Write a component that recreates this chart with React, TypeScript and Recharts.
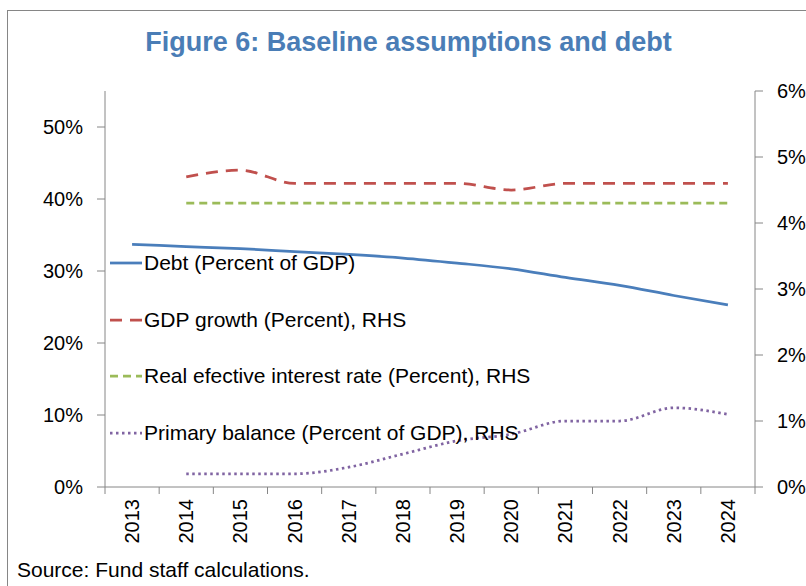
import { LineChart, Line, XAxis, YAxis, Legend } from "recharts";

const YEARS = [2013, 2014, 2015, 2016, 2017, 2018, 2019, 2020, 2021, 2022, 2023, 2024];
const DEBT = [33.7, 33.4, 33.1, 32.7, 32.3, 31.8, 31.1, 30.3, 29.1, 28.0, 26.6, 25.3];
const GDP_GROWTH = [null, 4.7, 4.8, 4.6, 4.6, 4.6, 4.6, 4.5, 4.6, 4.6, 4.6, 4.6];
const INTEREST_RATE = [null, 4.3, 4.3, 4.3, 4.3, 4.3, 4.3, 4.3, 4.3, 4.3, 4.3, 4.3];
const PRIMARY_BALANCE = [null, 0.2, 0.2, 0.2, 0.3, 0.5, 0.7, 0.8, 1.0, 1.0, 1.2, 1.1];

const LEFT_TICKS = [0, 10, 20, 30, 40, 50];
const RIGHT_TICKS = [0, 1, 2, 3, 4, 5, 6];

const SERIES = [
  { key: "debt", name: "Debt (Percent of GDP)", color: "#4a7ebb", dash: undefined, axis: "left" },
  { key: "gdp", name: "GDP growth (Percent), RHS", color: "#c0504d", dash: "12 8", axis: "right" },
  { key: "rate", name: "Real efective interest rate (Percent), RHS", color: "#9bbb59", dash: "8 5", axis: "right" },
  { key: "primary", name: "Primary balance (Percent of GDP), RHS", color: "#8064a2", dash: "2.5 3.5", axis: "right" },
];

const data = YEARS.map((year, i) => ({
  year,
  debt: DEBT[i],
  gdp: GDP_GROWTH[i],
  rate: INTEREST_RATE[i],
  primary: PRIMARY_BALANCE[i],
}));

// tick marks sit on the category boundaries, labels in between
const boundaries = [...YEARS.map((y) => y - 0.5), YEARS[YEARS.length - 1] + 0.5];

const FONT = "'Liberation Sans', Arial, sans-serif";
const AXIS_GREY = "#868686";
const PLOT_WIDTH = 650;
const HALF_BAND = PLOT_WIDTH / YEARS.length / 2;

function YearTick({ x, y, payload }: any) {
  if (payload.value > YEARS[YEARS.length - 1]) return null;
  const cx = x + HALF_BAND;
  const ty = y + 3;
  return (
    <text
      x={cx}
      y={ty}
      transform={`rotate(-90, ${cx}, ${ty})`}
      textAnchor="end"
      dominantBaseline="central"
      fontSize={20}
      fontFamily={FONT}
      fill="#000"
    >
      {payload.value + 0.5}
    </text>
  );
}

function LegendBox() {
  return (
    <div style={{ fontFamily: FONT, fontSize: 21, color: "#000" }}>
      {SERIES.map((s) => (
        <div key={s.key} style={{ height: 56.5, display: "flex", alignItems: "center" }}>
          <svg width={34} height={10} style={{ display: "block" }}>
            <line x1={0} y1={5} x2={32} y2={5} stroke={s.color} strokeWidth={2.75} strokeDasharray={s.dash} />
          </svg>
          <span style={{ whiteSpace: "nowrap" }}>{s.name}</span>
        </div>
      ))}
    </div>
  );
}

export default function App() {
  return (
    <div style={{ position: "fixed", left: 0, top: 0, width: 806, height: 586, background: "#fff", overflow: "hidden" }}>
      <div
        style={{
          position: "absolute",
          left: 7,
          top: 10,
          width: 799,
          height: 576,
          borderLeft: `1px solid ${AXIS_GREY}`,
          borderTop: `1px solid ${AXIS_GREY}`,
          boxSizing: "border-box",
        }}
      />
      <div
        style={{
          position: "absolute",
          left: 0,
          top: 27,
          width: 817,
          textAlign: "center",
          fontFamily: FONT,
          fontWeight: "bold",
          fontSize: 27,
          color: "#4a7db6",
        }}
      >
        Figure 6: Baseline assumptions and debt
      </div>
      <div style={{ position: "absolute", left: 0, top: 0 }}>
        <LineChart width={806} height={586} data={data} margin={{ top: 91, right: 0, bottom: 0, left: 0 }}>
          <XAxis
            dataKey="year"
            type="number"
            domain={[boundaries[0], boundaries[boundaries.length - 1]]}
            ticks={boundaries}
            interval={0}
            height={99}
            tickSize={7}
            tickMargin={2}
            axisLine={{ stroke: AXIS_GREY }}
            tickLine={{ stroke: AXIS_GREY }}
            tick={<YearTick />}
          />
          <YAxis
            yAxisId="left"
            width={105}
            domain={[0, 55]}
            ticks={LEFT_TICKS}
            tickFormatter={(v: number) => `${v}%`}
            tickSize={8}
            tickMargin={14}
            axisLine={{ stroke: AXIS_GREY }}
            tickLine={{ stroke: AXIS_GREY }}
            tick={{ fontSize: 20, fontFamily: FONT, fill: "#000" }}
          />
          <YAxis
            yAxisId="right"
            orientation="right"
            width={51}
            domain={[0, 6]}
            ticks={RIGHT_TICKS}
            tickFormatter={(v: number) => `${v}%`}
            tickSize={8}
            tickMargin={14}
            axisLine={{ stroke: AXIS_GREY }}
            tickLine={{ stroke: AXIS_GREY }}
            tick={{ fontSize: 20, fontFamily: FONT, fill: "#000", textAnchor: "start" }}
          />
          <Legend
            layout="vertical"
            align="center"
            verticalAlign="middle"
            wrapperStyle={{ left: 110, top: 235, width: "auto" }}
            content={() => <LegendBox />}
          />
          {SERIES.map((s) => (
            <Line
              key={s.key}
              yAxisId={s.axis}
              dataKey={s.key}
              name={s.name}
              type="monotone"
              stroke={s.color}
              strokeWidth={2.75}
              strokeDasharray={s.dash}
              dot={false}
              activeDot={false}
              connectNulls={false}
              isAnimationActive={false}
            />
          ))}
        </LineChart>
      </div>
      <div
        style={{
          position: "absolute",
          left: 17,
          top: 558,
          fontFamily: FONT,
          fontSize: 21,
          color: "#000",
          whiteSpace: "nowrap",
        }}
      >
        Source: Fund staff calculations.
      </div>
    </div>
  );
}
